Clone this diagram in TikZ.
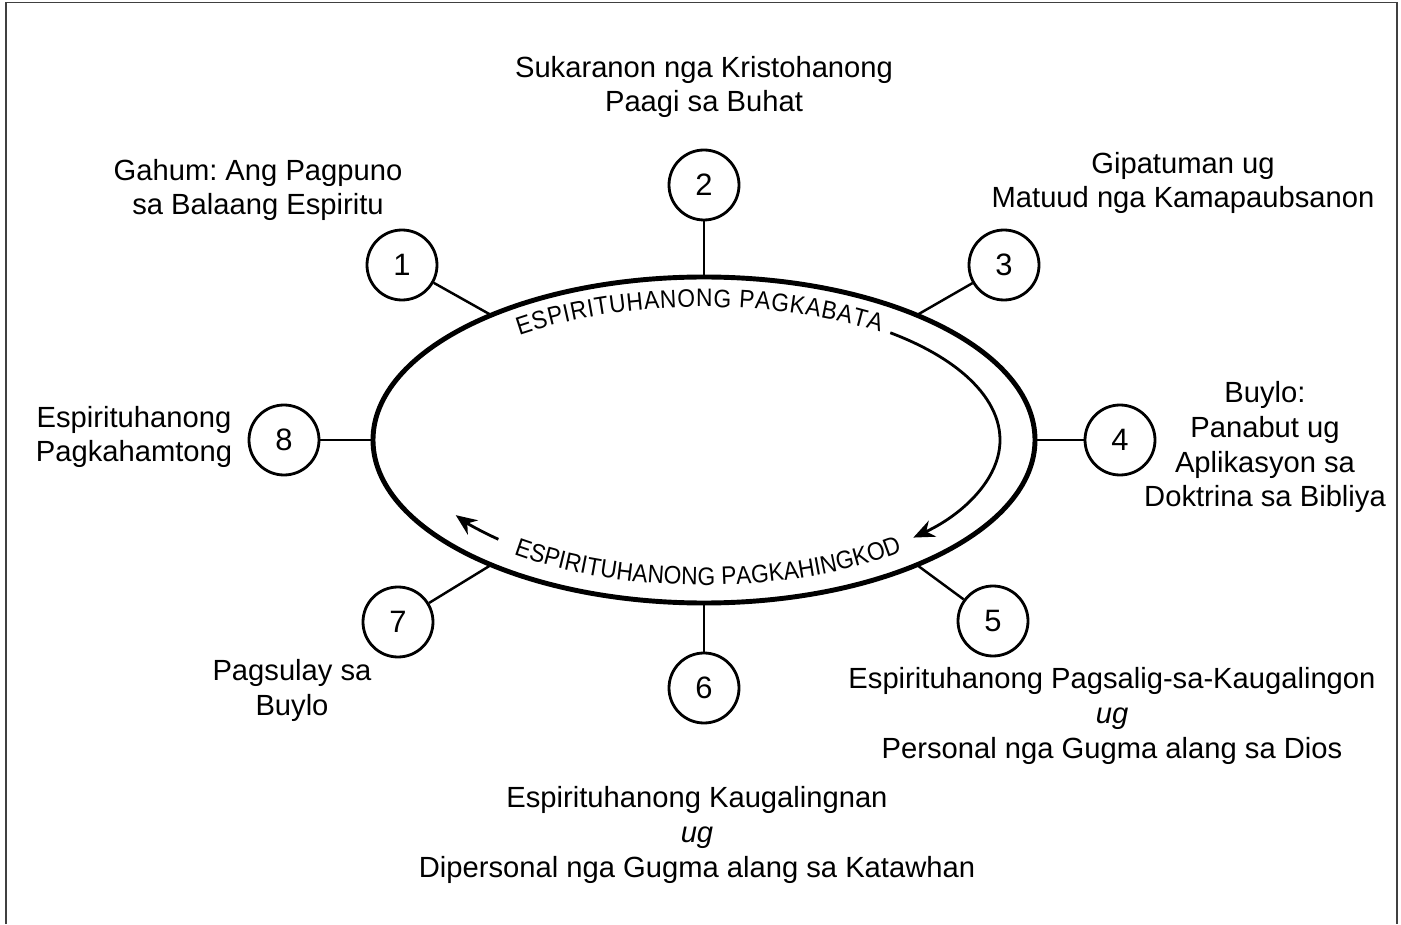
\documentclass[tikz,border=0pt]{standalone}
\usepackage{fontspec}
\setmainfont{Liberation Sans}
\newfontfamily\arcfam[FakeStretch=0.9]{Liberation Sans}
\usetikzlibrary{arrows.meta,decorations.text}
\frenchspacing

\newcommand\arcfont{\arcfam\fontsize{7.2}{8}\selectfont}

\tikzset{
  num/.style={circle, draw, line width=0.8pt, minimum size=0.7cm, inner sep=0pt,
    font=\fontsize{8.8}{9.9}\selectfont},
  lbl/.style={align=center, inner sep=0pt, anchor=base,
    font=\fontsize{8.3}{9.9}\selectfont},
  arctext/.style 2 args={decorate, decoration={text along path, text align={#1},
    text={|\arcfont|#2}}}
}

\begin{document}
\begin{tikzpicture}[>={Stealth[length=6pt,width=5pt]}]
  \useasboundingbox (-7.04,-4.84) rectangle (6.97,4.40);
  \draw[line width=0.5pt, black!75] (-6.98,-4.84) -- (-6.98,4.375) -- (6.93,4.375) -- (6.93,-4.84);

  \draw[line width=1.4pt] (0,0) ellipse (3.31 and 1.63);

  \node[num] (n1) at (-3.02,1.75) {1};
  \node[num] (n2) at (0,2.55) {2};
  \node[num] (n3) at (3.00,1.75) {3};
  \node[num] (n4) at (4.16,0) {4};
  \node[num] (n5) at (2.89,-1.81) {5};
  \node[num] (n6) at (0,-2.48) {6};
  \node[num] (n7) at (-3.06,-1.82) {7};
  \node[num] (n8) at (-4.20,0) {8};

  \foreach \i/\a in {1/130,2/90,3/50,4/0,5/-50,6/-90,7/-130,8/180}
    \draw[line width=0.7pt] (n\i) -- (\a:3.31 and 1.63);

  % anchor=base sits on the last line
  \node[lbl] (t1) at (-4.46,2.25) {Gahum: Ang Pagpuno\\sa Balaang Espiritu};
  \node[lbl] (t2) at (0,3.28) {Sukaranon nga Kristohanong\\Paagi sa Buhat};
  \node[lbl] (t3) at (4.79,2.32) {Gipatuman ug\\Matuud nga Kamapaubsanon};
  \node[lbl] (t4) at (5.61,-0.67) {Buylo:\\Panabut ug\\Aplikasyon sa\\Doktrina sa Bibliya};
  \node[lbl] (t5) at (4.08,-3.18) {Espirituhanong Pagsalig-sa-Kaugalingon\\\textit{ug}\\Personal nga Gugma alang sa Dios};
  \node[lbl] (t6) at (-0.07,-4.37) {Espirituhanong Kaugalingnan\\\textit{ug}\\Dipersonal nga Gugma alang sa Katawhan};
  \node[lbl] (t7) at (-4.12,-2.75) {Pagsulay sa\\Buylo};
  \node[lbl] (t8) at (-5.70,-0.22) {Espirituhanong\\Pagkahamtong};

  \path[arctext={fit to path}{ESPIRITUHANONG PAGKABATA}] (128:3.00 and 1.33)
    arc[start angle=128, end angle=54, x radius=3.00, y radius=1.33];
  \path[arctext={center}{ESPIRITUHANONG PAGKAHINGKOD}] (229:3.10 and 1.45)
    arc[start angle=229, end angle=313, x radius=3.10, y radius=1.45];

  \draw[line width=0.8pt,->] (51:2.96 and 1.38)
    arc[start angle=51, end angle=-45, x radius=2.96, y radius=1.38];
  \draw[line width=0.8pt,->] (226:2.96 and 1.38)
    arc[start angle=226, end angle=213, x radius=2.96, y radius=1.38];
\end{tikzpicture}
\end{document}
